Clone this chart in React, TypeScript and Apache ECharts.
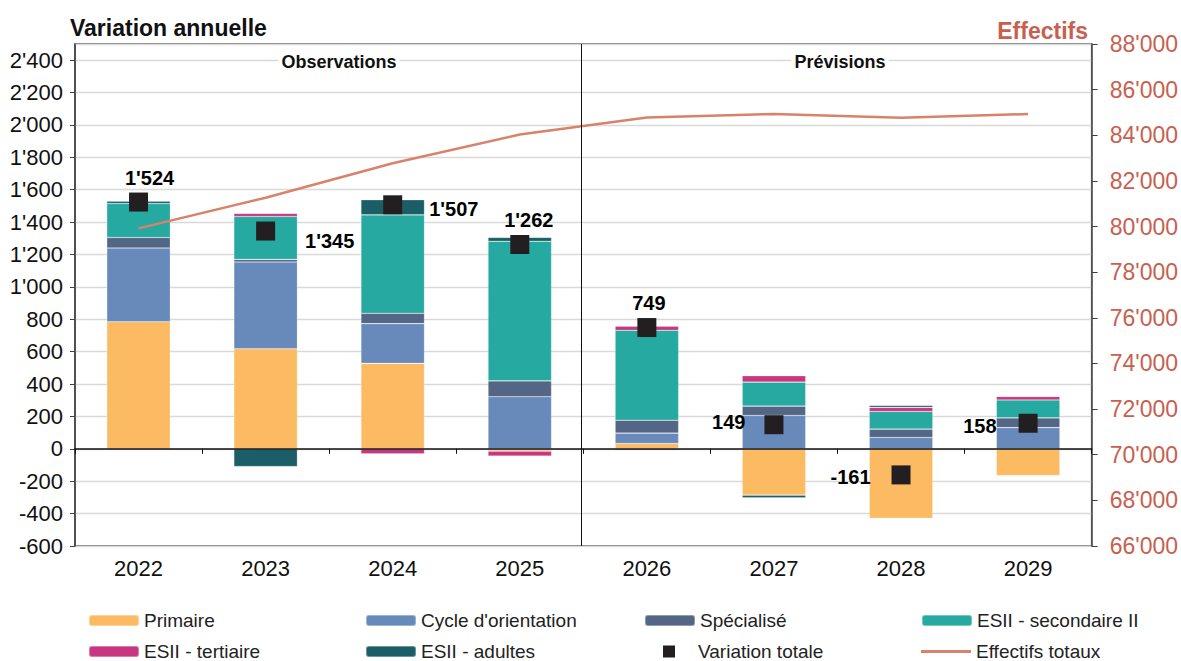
import React, { useEffect, useRef } from 'react';
import * as echarts from 'echarts';

const categories = ['2022', '2023', '2024', '2025', '2026', '2027', '2028', '2029'];
const primaire = [785, 618, 528, -14, 33, -286, -429, -165];
const cycleOrientation = [455, 536, 245, 322, 64, 206, 70, 131];
const specialise = [65, 16, 64, 98, 80, 58, 52, 60];
const secondaireII = [210, 265, 608, 862, 555, 148, 109, 111];
const tertiaire = [-6, 19, -31, -30, 25, 39, 25, 21];
const adultes = [15, -109, 93, 24, -8, -16, 12, 0];
const variationTotale = [1524, 1345, 1507, 1262, 749, 149, -161, 158];
const effectifsTotaux = [79920, 81265, 82772, 84034, 84783, 84932, 84771, 84929];
const dividerAt = 3.975; // boundary between observations and forecasts (category scale)

const FONT = '"Liberation Sans", Arial, Helvetica, sans-serif';

const fmt = (v: number) => {
  const s = Math.abs(Math.round(v)).toString().replace(/\B(?=(\d{3})+(?!\d))/g, "'");
  return (v < 0 ? '-' : '') + s;
};

const labelConf: any[] = [
  { position: 'top', offset: [11, 0] },
  { position: 'right', offset: [25, 10] },
  { position: 'right', offset: [22, 4] },
  { position: 'top', offset: [9, 0] },
  { position: 'top', offset: [2, 0] },
  { position: 'left', offset: [-14, -3] },
  { position: 'left', offset: [-16, 2] },
  { position: 'left', offset: [-17, 3] },
];

export default function App() {
  const ref = useRef<HTMLDivElement>(null);
  useEffect(() => {
    if (!ref.current) return;
    const chart = echarts.init(ref.current, undefined, { renderer: 'svg' });
    const barSeries = (name: string, data: number[], color: string) => ({
      name,
      type: 'bar',
      stack: 'v',
      data,
      barWidth: '50%',
      xAxisIndex: 0,
      yAxisIndex: 0,
      itemStyle: { color, borderColor: 'rgba(255,255,255,0.35)', borderWidth: 0.6 },
      emphasis: { disabled: true },
    });
    const legendText = { fontSize: 19, lineHeight: 18, color: '#222', fontFamily: FONT };
    const lg = (name: string, left: number, top: number, extra: any = {}) => ({
      orient: 'horizontal',
      left,
      top,
      padding: 0,
      itemWidth: 50,
      itemHeight: 11,
      selectedMode: false,
      data: [name],
      textStyle: legendText,
      ...extra,
    });
    const R1 = 611;
    const R2 = 642;
    chart.setOption({
      animation: false,
      textStyle: { fontFamily: FONT },
      grid: {
        left: 75,
        right: 88,
        top: 44,
        bottom: 115,
        show: true,
        borderColor: '#555',
        borderWidth: 1.5,
        containLabel: false,
      },
      legend: [
        lg('Primaire', 88, R1),
        lg('ESII - tertiaire', 88, R2),
        lg("Cycle d'orientation", 365, R1),
        lg('ESII - adultes', 365, R2),
        lg('Spécialisé', 644, R1),
        lg('Variation totale', 663, R2, {
          itemWidth: 12,
          itemHeight: 12,
          textStyle: { ...legendText, padding: [0, 0, 0, 18] },
        }),
        lg('ESII - secondaire II', 921, R1),
        lg('Effectifs totaux', 921, R2, {
          itemHeight: 3,
          data: [{ name: 'Effectifs totaux', icon: 'rect' }],
        }),
      ],
      xAxis: [
        {
          type: 'category',
          data: categories,
          position: 'bottom',
          axisLine: { show: false, onZero: false },
          axisTick: { show: false },
          axisLabel: { fontSize: 22, color: '#111', margin: 11 },
          splitLine: { show: false },
        },
        {
          type: 'category',
          data: categories,
          position: 'bottom',
          z: 10,
          axisLine: { show: true, onZero: true, lineStyle: { color: '#111', width: 1.5 } },
          axisTick: { show: true, length: 5, lineStyle: { color: '#111', width: 1 } },
          axisLabel: { show: false },
          splitLine: { show: false },
        },
        {
          type: 'value',
          min: 0,
          max: categories.length,
          show: false,
        },
      ],
      yAxis: [
        {
          type: 'value',
          min: -600,
          max: 2500,
          interval: 200,
          position: 'left',
          axisLine: { show: true, lineStyle: { color: '#404040', width: 1.5 } },
          axisTick: { show: true, length: 5, lineStyle: { color: '#404040' } },
          axisLabel: { fontSize: 22, color: '#111', margin: 12, showMaxLabel: false, formatter: fmt },
          splitLine: { show: true, lineStyle: { color: '#d9d9d9', width: 1.3 } },
        },
        {
          type: 'value',
          min: 66000,
          max: 88000,
          interval: 2000,
          position: 'right',
          axisLine: { show: true, lineStyle: { color: '#555', width: 1.5 } },
          axisTick: { show: true, length: 6, lineStyle: { color: '#404040' } },
          axisLabel: { fontSize: 23, color: '#C8604F', margin: 18, formatter: fmt },
          splitLine: { show: false },
        },
      ],
      series: [
        barSeries('Primaire', primaire, '#FCBB62'),
        barSeries("Cycle d'orientation", cycleOrientation, '#678ABB'),
        barSeries('Spécialisé', specialise, '#536685'),
        barSeries('ESII - secondaire II', secondaireII, '#26A9A0'),
        barSeries('ESII - tertiaire', tertiaire, '#C8367F'),
        barSeries('ESII - adultes', adultes, '#1C5E67'),
        {
          name: 'divider',
          type: 'line',
          xAxisIndex: 2,
          yAxisIndex: 0,
          data: [],
          silent: true,
          markLine: {
            silent: true,
            symbol: 'none',
            label: { show: false },
            lineStyle: { color: '#111', width: 1, type: 'solid' },
            data: [{ xAxis: dividerAt }],
          },
        },
        {
          name: 'Effectifs totaux',
          type: 'line',
          xAxisIndex: 0,
          yAxisIndex: 1,
          data: effectifsTotaux,
          symbol: 'none',
          lineStyle: { color: '#D9826B', width: 2.5 },
          itemStyle: { color: '#D9826B' },
          emphasis: { disabled: true },
        },
        {
          name: 'Variation totale',
          type: 'scatter',
          xAxisIndex: 0,
          yAxisIndex: 0,
          symbol: 'rect',
          symbolSize: 19,
          z: 5,
          itemStyle: { color: '#231F20', opacity: 1 },
          emphasis: { disabled: true },
          data: variationTotale.map((v, i) => ({
            value: v,
            label: {
              show: true,
              position: labelConf[i].position,
              offset: labelConf[i].offset,
              distance: 5,
              formatter: () => fmt(v),
              fontSize: 20,
              fontWeight: 'bold',
              color: '#000',
              opacity: 1,
            },
          })),
        },
      ],
      graphic: [
        {
          type: 'text',
          x: 70,
          y: 28,
          style: {
            text: 'Variation annuelle',
            font: `bold 23px ${FONT}`,
            fill: '#111',
            textVerticalAlign: 'middle',
          },
        },
        {
          type: 'text',
          x: 1088,
          y: 31,
          style: {
            text: 'Effectifs',
            font: `bold 23px ${FONT}`,
            fill: '#C8604F',
            textAlign: 'right',
            textVerticalAlign: 'middle',
          },
        },
        {
          type: 'text',
          x: 339,
          y: 62,
          z: 100,
          style: {
            text: 'Observations',
            font: `bold 18px ${FONT}`,
            fill: '#111',
            textAlign: 'center',
            textVerticalAlign: 'middle',
            backgroundColor: '#fff',
            padding: [1, 3, 1, 3],
          },
        },
        {
          type: 'text',
          x: 840,
          y: 62,
          z: 100,
          style: {
            text: 'Prévisions',
            font: `bold 18px ${FONT}`,
            fill: '#111',
            textAlign: 'center',
            textVerticalAlign: 'middle',
            backgroundColor: '#fff',
            padding: [1, 3, 1, 3],
          },
        },
      ],
    });
    return () => chart.dispose();
  }, []);
  return (
    <div
      ref={ref}
      style={{ position: 'absolute', left: 0, top: 0, width: 1181, height: 661, background: '#fff' }}
    />
  );
}
